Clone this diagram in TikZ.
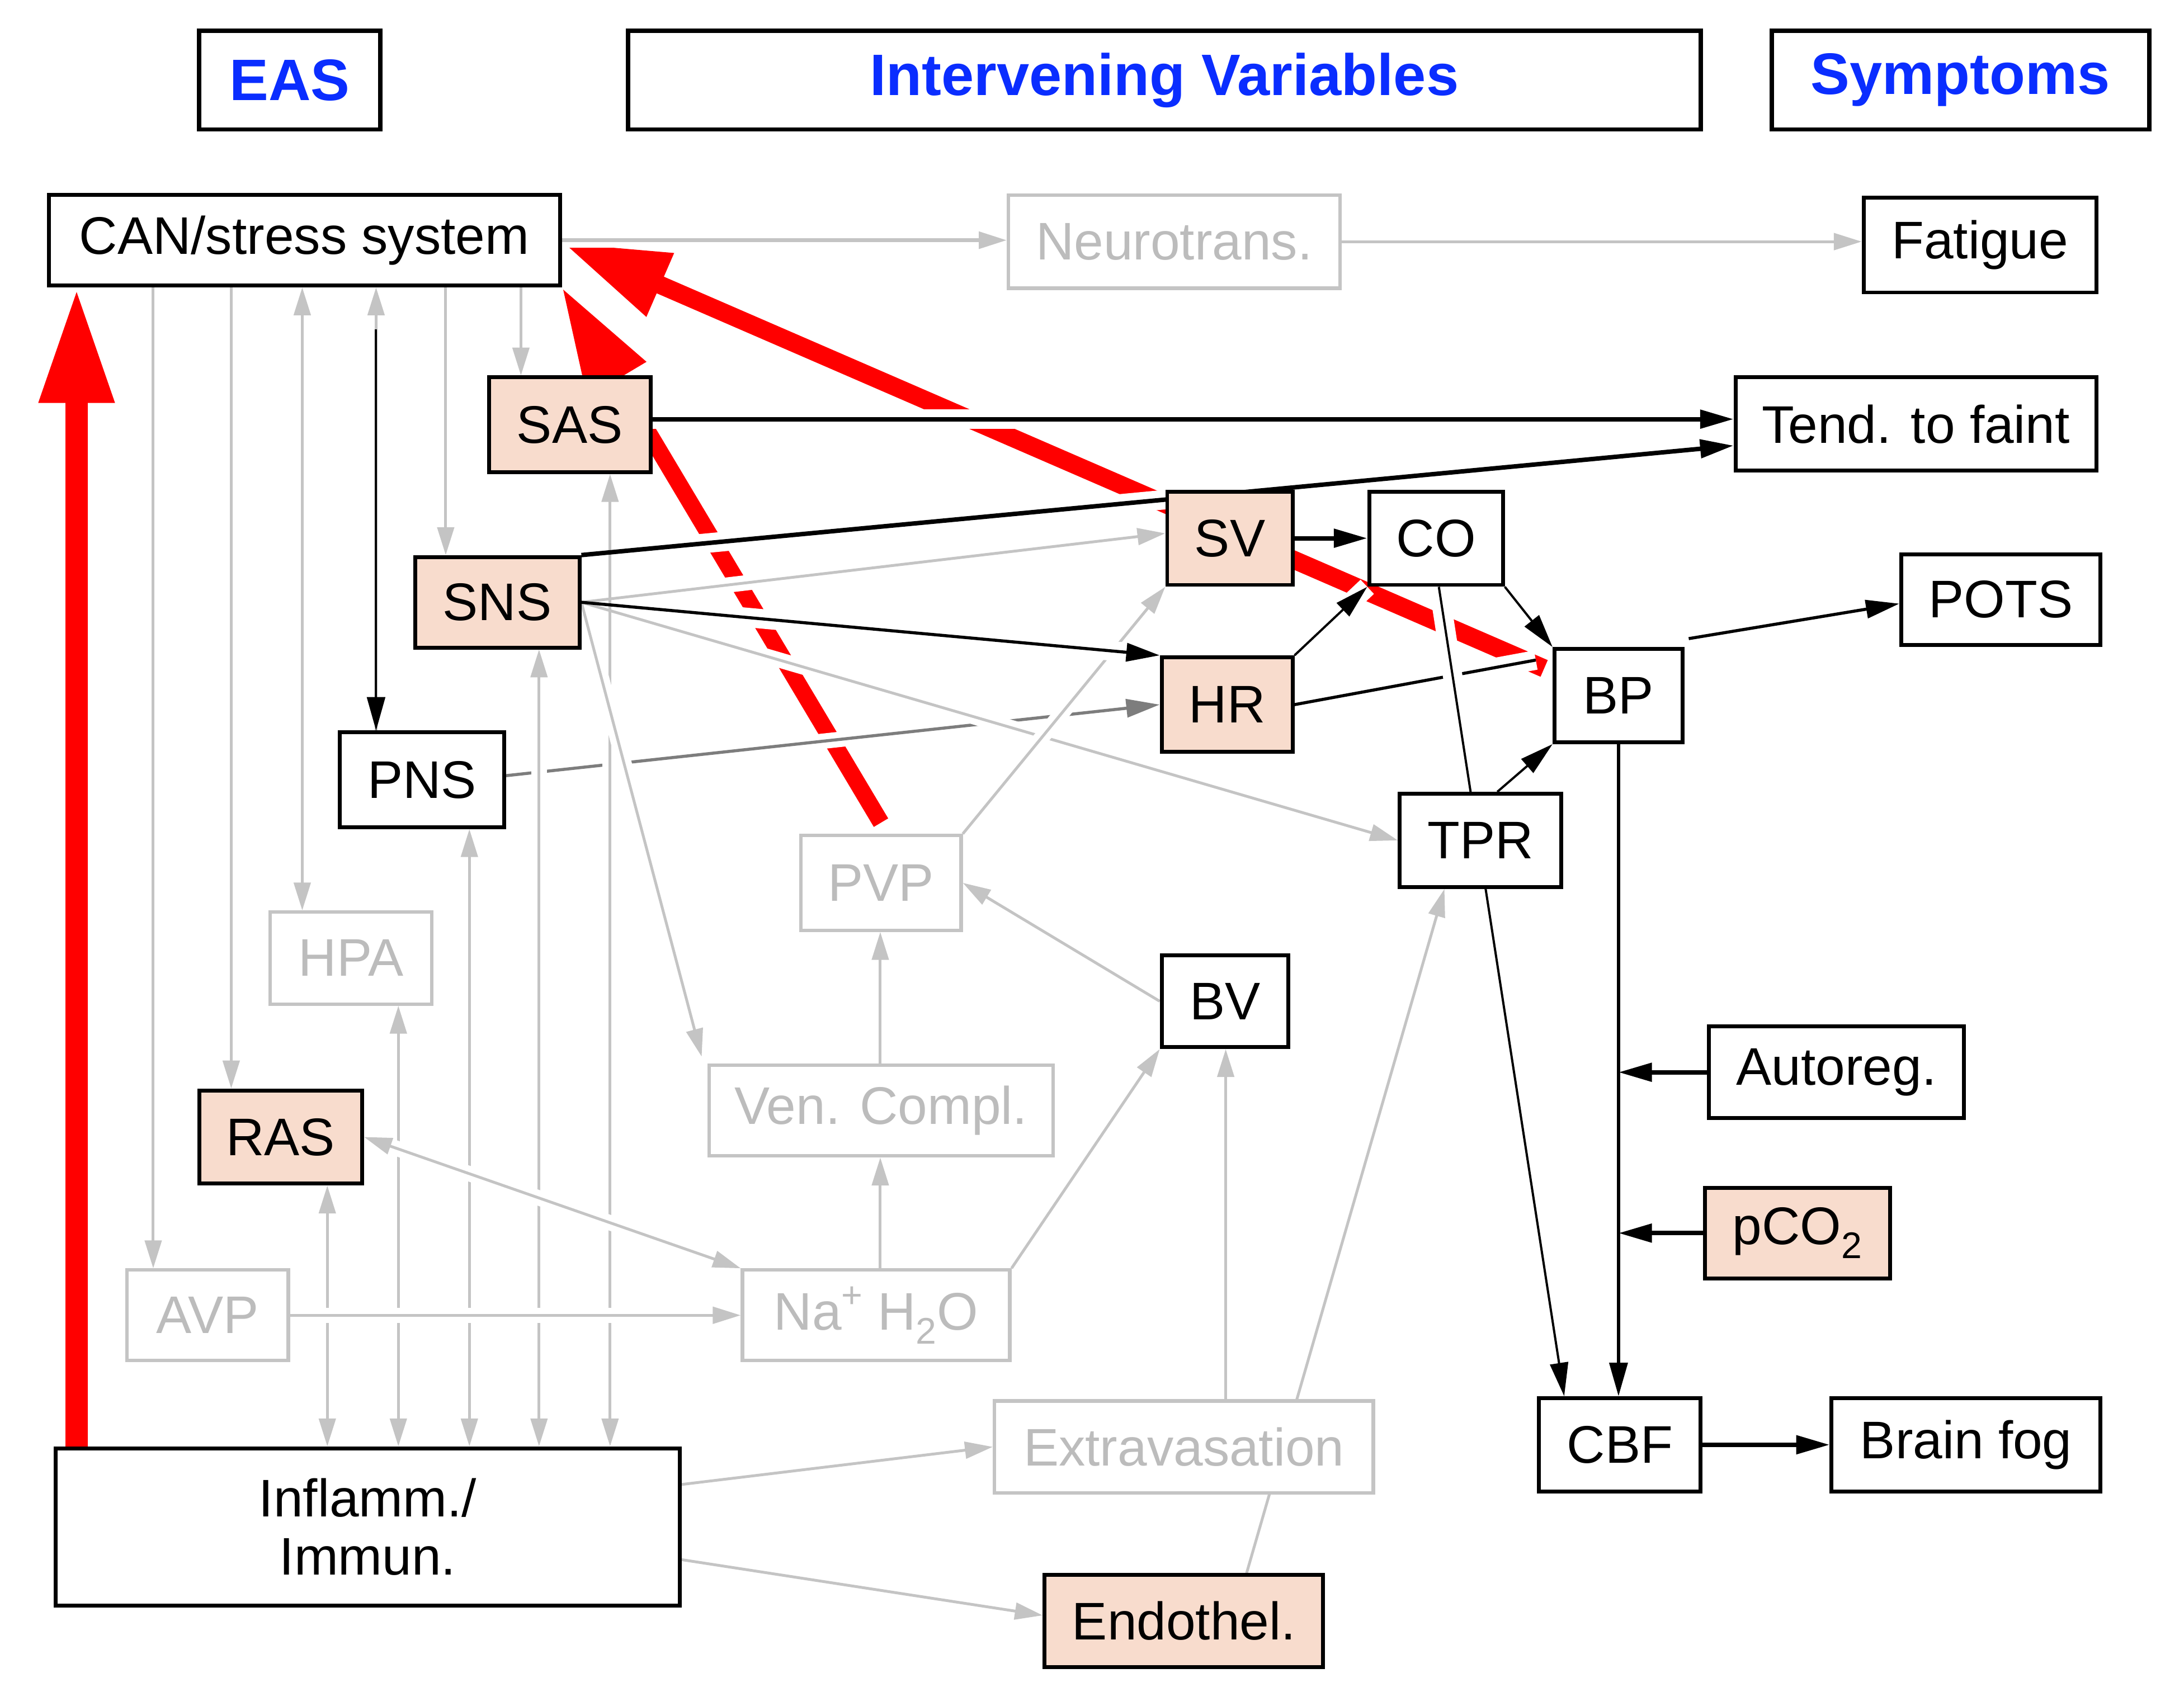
\documentclass[tikz,border=0pt]{standalone}
\usepackage{fontspec}
\setmainfont{Liberation Sans}
\usetikzlibrary{arrows.meta,calc}
\pgfdeclarelayer{bg}
\pgfsetlayers{bg,main}
\definecolor{pinkf}{RGB}{248,220,205}
\definecolor{lgray}{RGB}{196,196,196}
\definecolor{gtext}{RGB}{188,188,188}
\definecolor{dgray}{RGB}{125,125,125}
\definecolor{hblue}{RGB}{10,45,255}
\newcommand{\supplus}{\raisebox{0.42em}{\fontsize{26}{26}\selectfont +}}
\tikzset{
  nbox/.style={draw=black, line width=2.8pt, fill=white, inner sep=0pt, align=center,
    font=\fontsize{38}{42}\selectfont},
  pbox/.style={nbox, fill=pinkf},
  gbox/.style={draw=lgray, line width=2.5pt, fill=white, inner sep=0pt, align=center,
    text=gtext, font=\fontsize{38}{42}\selectfont},
  hbox/.style={draw=black, line width=3pt, fill=white, inner sep=0pt, text=hblue,
    font=\fontsize{42}{48}\selectfont\bfseries},
  gl/.style={draw=lgray, line width=2pt, >={Triangle[length=20pt,width=12pt]},
    preaction={draw=white, line width=11pt, arrows=-}},
  gls/.style={draw=lgray, line width=2pt, >={Triangle[length=20pt,width=12pt]},
    preaction={draw=white, line width=11pt, arrows=-, shorten <=45pt}},
  dgl/.style={draw=dgray, line width=2.2pt, >={Triangle[length=24pt,width=13pt]},
    preaction={draw=white, line width=11pt, arrows=-}},
  bl/.style={draw=black, line width=2.2pt, >={Triangle[length=24pt,width=13pt]},
    preaction={draw=white, line width=14pt, arrows=-}},
  bls/.style={draw=black, line width=2.2pt, >={Triangle[length=24pt,width=13pt]},
    preaction={draw=white, line width=14pt, arrows=-, shorten <=45pt}},
  blnh/.style={draw=black, line width=2.2pt, >={Triangle[length=24pt,width=13pt]}},
  thk/.style={line width=3.2pt},
  thn/.style={line width=1.6pt},
  redarr/.style={draw=red, line width=13pt, -{Triangle[length=77pt,width=46pt]}},
}
\begin{document}
\begin{tikzpicture}[x=1pt,y=-1pt]
\useasboundingbox (0,0) rectangle (1568,1215);
% headers
\node[hbox, minimum width=130pt, minimum height=71pt] (eas) at (208,57.5) {EAS};
\node[hbox, minimum width=770pt, minimum height=71pt] (iv) at (836,57.5) {Intervening Variables};
\node[hbox, minimum width=271pt, minimum height=71pt] (sym) at (1407.5,57.5) {Symptoms};
% nodes
\node[nbox, minimum width=367pt, minimum height=65pt] (can) at (218.5,172.5) {CAN/stress system};
\node[gbox, minimum width=238pt, minimum height=67pt] (neuro) at (843,173.5) {Neurotrans.};
\node[nbox, minimum width=167pt, minimum height=68pt] (fat) at (1421.5,176) {Fatigue};
\node[pbox, minimum width=116pt, minimum height=68pt] (sas) at (409,305) {SAS};
\node[nbox, minimum width=259pt, minimum height=67pt] (tend) at (1375.5,304.5) {Tend. to faint};
\node[pbox, minimum width=90pt, minimum height=67pt] (sv) at (883,386.5) {SV};
\node[nbox, minimum width=96pt, minimum height=67pt] (co) at (1031,386.5) {CO};
\node[pbox, minimum width=118pt, minimum height=65pt] (sns) at (357,432.5) {SNS};
\node[nbox, minimum width=143pt, minimum height=65pt] (pots) at (1436.5,430.5) {POTS};
\node[pbox, minimum width=94pt, minimum height=68pt] (hr) at (881,506) {HR};
\node[nbox, minimum width=92pt, minimum height=67pt] (bp) at (1162,499.5) {BP};
\node[nbox, minimum width=118pt, minimum height=68pt] (pns) at (303,560) {PNS};
\node[nbox, minimum width=116pt, minimum height=67pt] (tpr) at (1063,603.5) {TPR};
\node[gbox, minimum width=115pt, minimum height=68pt] (pvp) at (632.5,634) {PVP};
\node[gbox, minimum width=116pt, minimum height=66pt] (hpa) at (252,688) {HPA};
\node[nbox, minimum width=91pt, minimum height=66pt] (bv) at (879.5,719) {BV};
\node[nbox, minimum width=183pt, minimum height=66pt] (auto) at (1318.5,770) {Autoreg.};
\node[gbox, minimum width=247pt, minimum height=65pt] (ven) at (632.5,797.5) {Ven. Compl.};
\node[pbox, minimum width=117pt, minimum height=67pt] (ras) at (201.5,816.5) {RAS};
\node[pbox, minimum width=133pt, minimum height=65pt] (pco) at (1290.5,885.5) {pCO\textsubscript{2}};
\node[gbox, minimum width=116pt, minimum height=65pt] (avp) at (149,944.5) {AVP};
\node[gbox, minimum width=192pt, minimum height=65pt] (na) at (629,944.5) {Na\supplus\ H\textsubscript{2}O};
\node[gbox, minimum width=272pt, minimum height=66pt] (extra) at (850,1039) {Extravasation};
\node[nbox, minimum width=116pt, minimum height=67pt] (cbf) at (1163,1037.5) {CBF};
\node[nbox, minimum width=193pt, minimum height=67pt] (fog) at (1411.5,1037.5) {Brain fog};
\node[nbox, minimum width=448pt, minimum height=113pt] (infl) at (264,1096.5) {Inflamm./\\Immun.};
\node[pbox, minimum width=200pt, minimum height=66pt] (endo) at (850,1164) {Endothel.};

\begin{pgfonlayer}{bg}
% red arrows
\draw[redarr, line width=16pt, -{Triangle[length=83pt,width=50pt]}] (55,0 |- infl.north) -- (55,0 |- can.south);
\draw[redarr] ([xshift=-6pt,yshift=19.5pt]bp.west) -- ([yshift=-1.5pt]can.east);
\draw[redarr, line width=12pt] ([yshift=8pt]pvp.north) -- (can.south east);
% dark gray
\draw[dgl,->] ([yshift=3pt]pns.east) -- (hr.west);
% gray connectors from CAN
\draw[gl,->] (110,0 |- can.south) -- (110,0 |- avp.north);
\draw[gl,->] (166,0 |- can.south) -- (166,0 |- ras.north);
\draw[gl,<->] (217,0 |- can.south) -- (217,0 |- hpa.north);
\draw[gl,->] (270,0 |- pns.north) -- (270,0 |- can.south);
\draw[gl,->] (320,0 |- can.south) -- (320,0 |- sns.north);
\draw[gl,->] (374,0 |- can.south) -- (374,0 |- sas.north);
% to inflammation
\draw[gl,<->] (235,0 |- ras.south) -- (235,0 |- infl.north);
\draw[gl,<->] (286,0 |- hpa.south) -- (286,0 |- infl.north);
\draw[gl,<->] (337,0 |- pns.south) -- (337,0 |- infl.north);
\draw[gl,<->] (387,0 |- sns.south) -- (387,0 |- infl.north);
\draw[gl,<->] (438,0 |- sas.south) -- (438,0 |- infl.north);
% others
\draw[gl,->, line width=2.5pt] (can.east) -- (can.east -| neuro.west);
\draw[gl,->] (neuro.east) -- (neuro.east -| fat.west);
\draw[gls,->] (sns.east) -- ([yshift=3.5pt]sv.west);
\draw[gls,->] (sns.east) -- (tpr.west);
\draw[gls,->] (sns.east) -- ([xshift=-4pt,yshift=5pt]ven.north west);
\draw[gl,->] (pvp.north east) -- (sv.south west);
\draw[gl,->] (bv.west) -- (pvp.east);
\draw[gl,->] (632,0 |- ven.north) -- (632,0 |- pvp.south);
\draw[gl,->] (632,0 |- na.north) -- (632,0 |- ven.south);
\draw[gl,->] (na.north east) -- (bv.south west);
\draw[gl,<->] (ras.east) -- (na.north west);
\draw[gl,->] (avp.east) -- (na.west);
\draw[gl,->] (880,0 |- extra.north) -- (880,0 |- bv.south);
\draw[gl,->] (895,0 |- endo.north) -- (1037,0 |- tpr.south);
\draw[gl,->] ([yshift=30.5pt]infl.east) -- (extra.west);
\draw[gl,->] ([yshift=-23.5pt]infl.east) -- ([yshift=4pt]endo.west);
% black connectors
\draw[bl,thk,->] ([yshift=4pt]sas.east) -- ([yshift=4pt]sas.east -| tend.west);
\draw[bls,thk,->] (sns.north east) -- ([yshift=-15.5pt]tend.west);
\draw[bls,->] (sns.east) -- (hr.north west);
\draw[bl,thk,->] (sv.east) -- (co.west);
\draw[bl] (hr.east) -- ([xshift=-12pt,yshift=25.5pt]bp.west);
\draw[bl,thn,->] (hr.north east) -- (co.south west);
\draw[bl,thn,->] (co.south east) -- (bp.north west);
\draw[bl,thn,->] ([xshift=12pt]tpr.north) -- (bp.south west);
\draw[bl,->] ([xshift=3pt,yshift=6pt]bp.north east) -- ([yshift=-3pt]pots.west);
\draw[bl,thn,->] ([xshift=2pt]co.south) -- ([xshift=-40pt]cbf.north);
\draw[blnh,thk,->] (auto.west) -- (1162,0 |- auto.west);
\draw[blnh,thk,->] (pco.west) -- (1162,0 |- pco.west);
\draw[blnh,->] (1162,0 |- bp.south) -- (1162,0 |- cbf.north);
\draw[blnh,thk,->] (cbf.east) -- (fog.west);
\draw[blnh,thn,->,shorten <=30pt] (270,0 |- can.south) -- (270,0 |- pns.north);
\end{pgfonlayer}
\end{tikzpicture}
\end{document}
